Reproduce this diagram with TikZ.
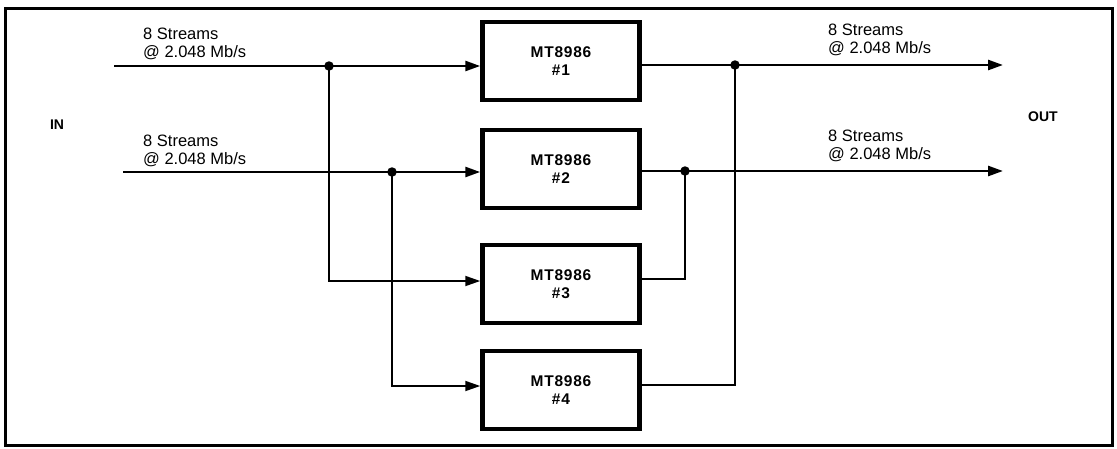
\documentclass[tikz,border=0pt]{standalone}
\usepackage{fontspec}
\setmainfont{Liberation Sans}
\usetikzlibrary{arrows.meta,calc}
\begin{document}
\begin{tikzpicture}[x=1pt,y=-1pt,
  chip/.style={draw,line width=4.5pt,minimum width=157pt,minimum height=78pt,inner sep=0pt,
    font=\fontsize{15.5}{17.5}\selectfont\bfseries\addfontfeature{LetterSpace=5},align=center},
  sig/.style={line width=2.6pt},
  link/.style={line width=1.8pt},
  arr/.style={-{Triangle[length=15pt,width=10pt]}},
  jdot/.style={circle,fill,inner sep=0pt,minimum size=9.5pt},
  lbl/.style={font=\fontsize{16.5}{18.5}\selectfont,align=left,inner sep=0pt,anchor=south west},
  side/.style={font=\fontsize{14}{16}\selectfont\bfseries,inner sep=0pt}]
\useasboundingbox (0,0) rectangle (1117,448);
\draw[line width=3pt] (5,8) rectangle (1112,445);
% chips
\node[chip] (b1) at (561,61)  {MT8986\\\#1};
\node[chip] (b2) at (561,169) {MT8986\\\#2};
\node[chip] (b3) at (561,284) {MT8986\\\#3};
\node[chip] (b4) at (561,390) {MT8986\\\#4};
% input coordinates
\coordinate (in1) at (114,66);
\coordinate (in2) at (123,172);
\node[jdot] (j1) at (329,66) {};
\node[jdot] (j2) at (392,172) {};
% output coordinates
\coordinate (out1) at (1003,65);
\coordinate (out2) at (1003,171);
\node[jdot] (k1) at (735,65) {};
\node[jdot] (k2) at (685,171) {};
% input lines
\draw[sig,arr] (in1) -- (in1 -| b1.west);
\draw[sig,arr] (in2) -- (in2 -| b2.west);
\draw[link,arr] (j1.center) |- ($(b3.west)+(0,-3)$);
\draw[link,arr] (j2.center) |- ($(b4.west)+(0,-4)$);
% output lines
\draw[sig,arr] (out1 -| b1.east) -- (out1);
\draw[sig,arr] (out2 -| b2.east) -- (out2);
\draw[link] (k2.center) |- ($(b3.east)+(0,-5)$);
\draw[link] (k1.center) |- ($(b4.east)+(0,-5)$);
% labels
\node[lbl] (t1) at (143,60) {8 Streams\\@ 2.048 Mb/s};
\node[lbl] (t2) at (143,167) {8 Streams\\@ 2.048 Mb/s};
\node[lbl] (t3) at (828,56) {8 Streams\\@ 2.048 Mb/s};
\node[lbl] (t4) at (828,162) {8 Streams\\@ 2.048 Mb/s};
\node[side] (in) at (57,125) {IN};
\node[side] (out) at (1043,117) {OUT};
\end{tikzpicture}
\end{document}
